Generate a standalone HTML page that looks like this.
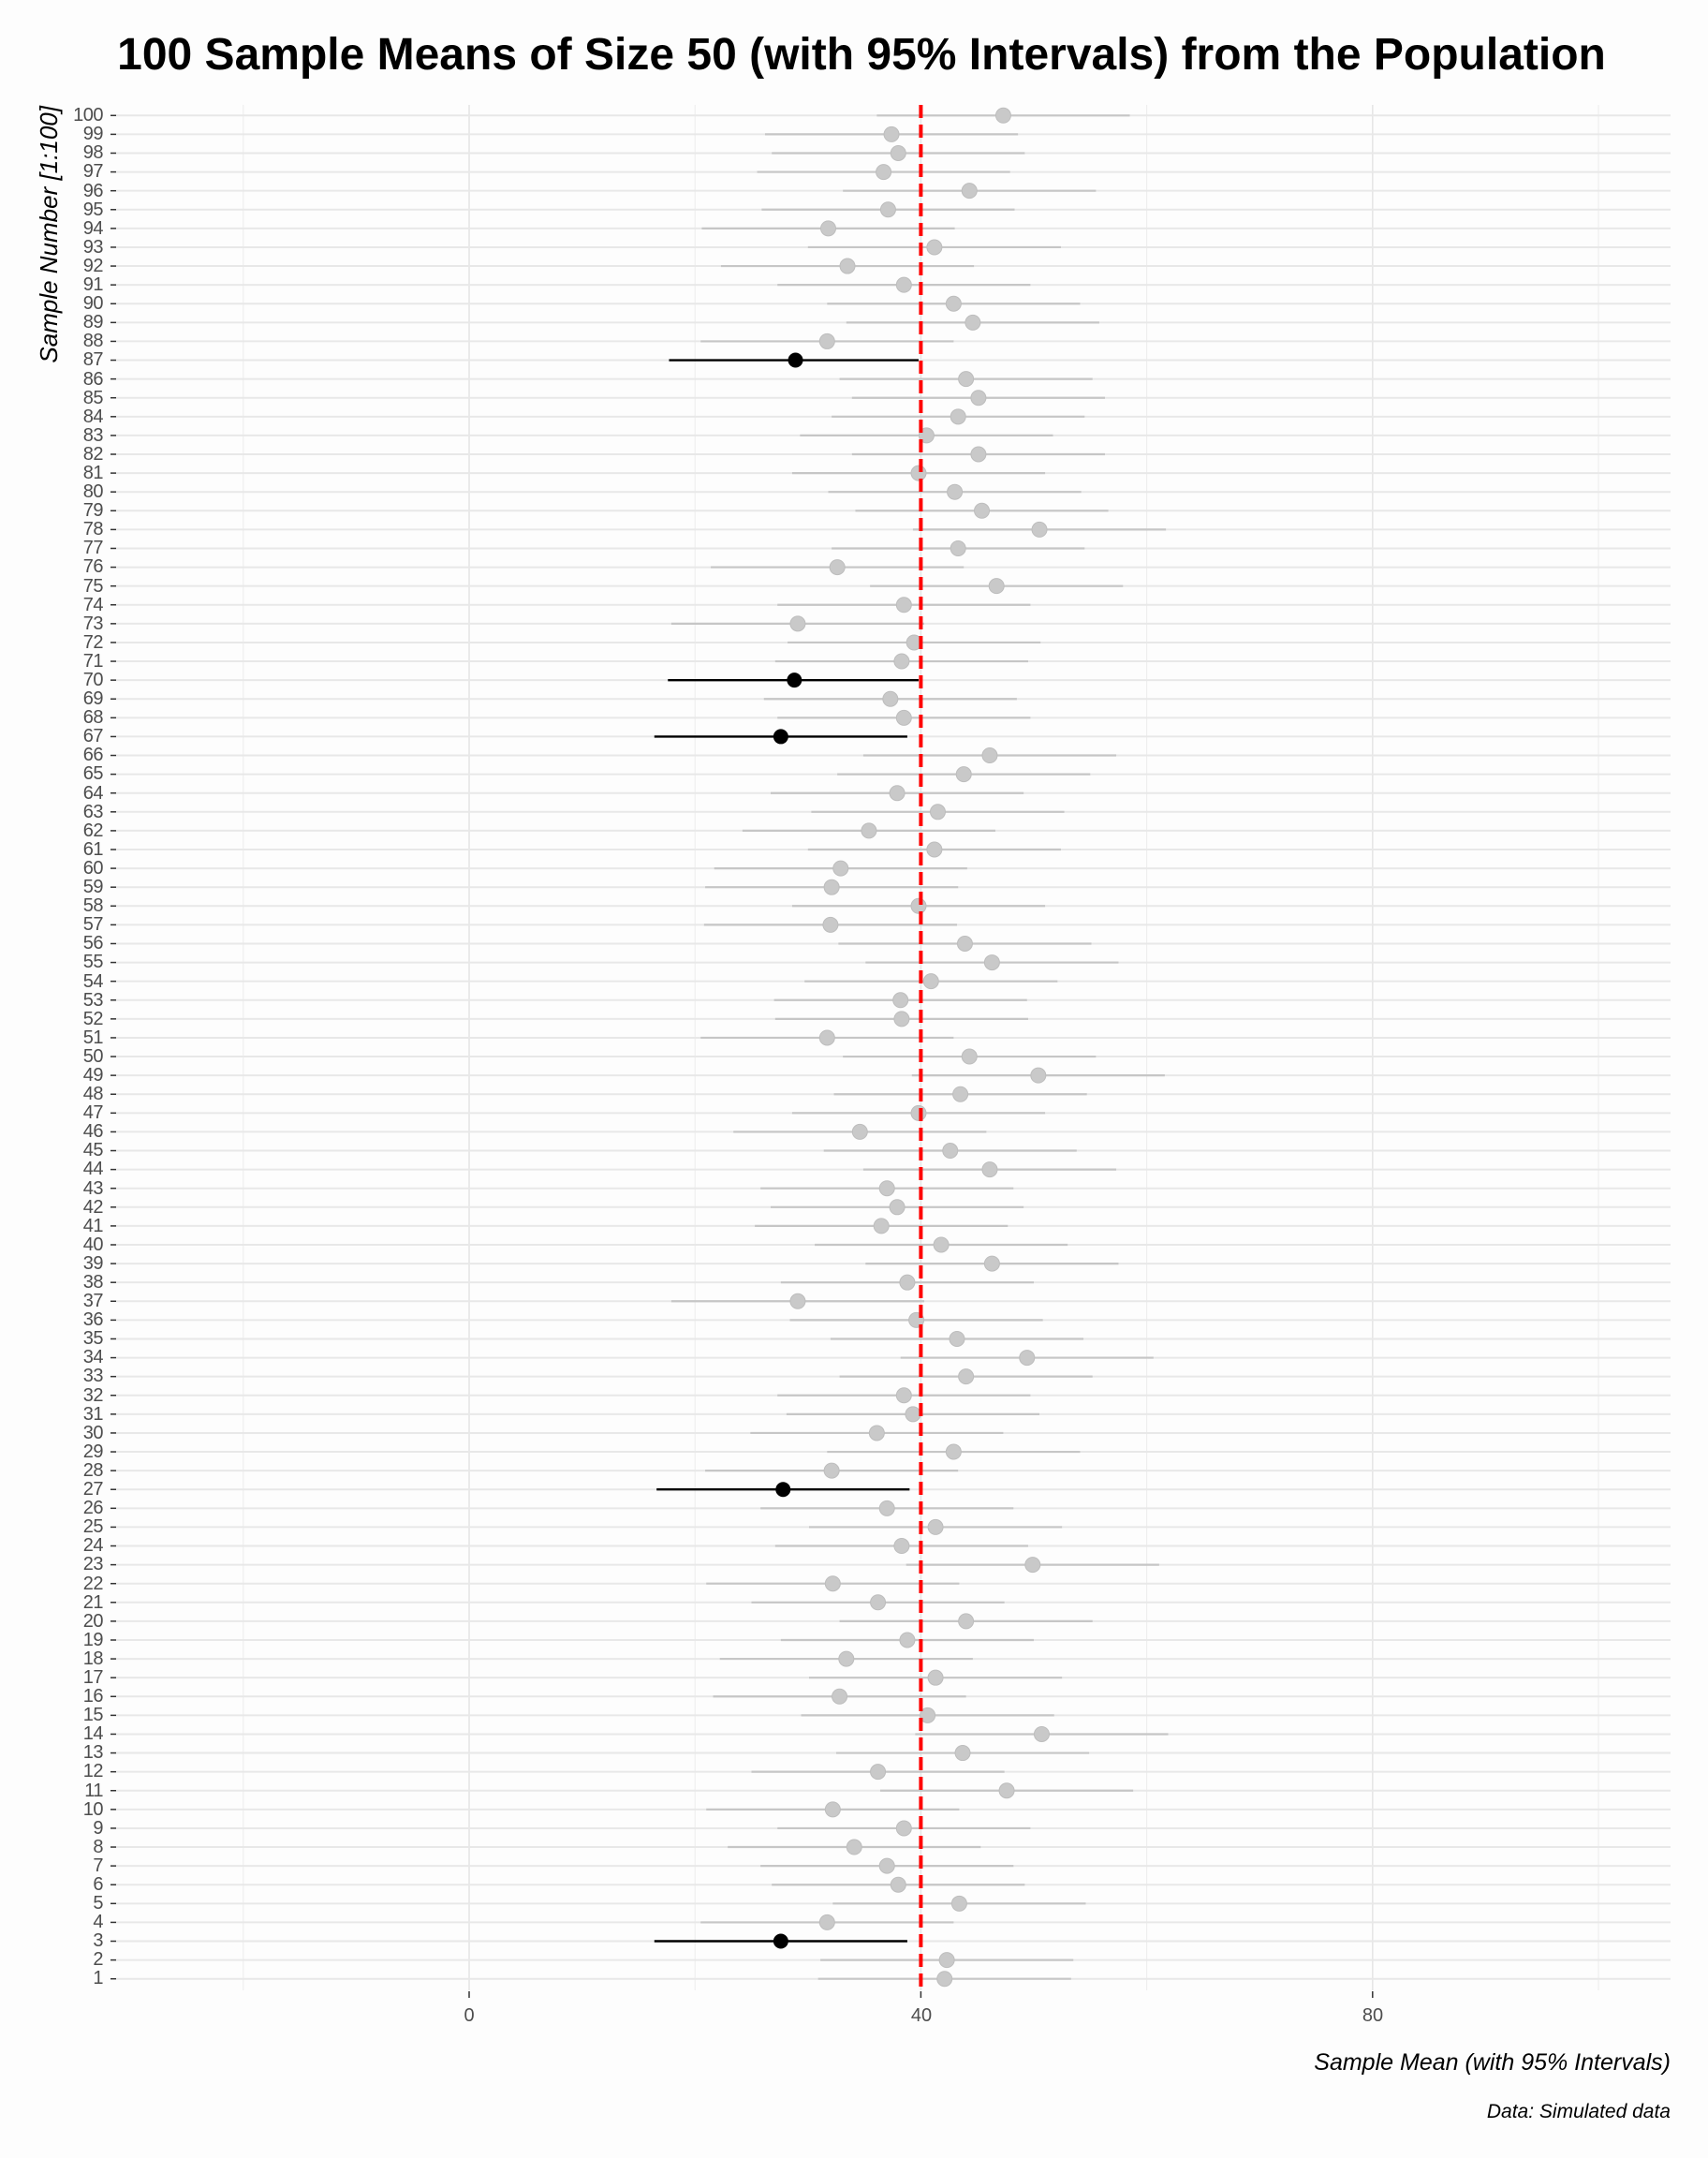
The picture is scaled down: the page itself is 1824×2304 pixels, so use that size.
<!DOCTYPE html>
<html><head><meta charset="utf-8"><style>
html,body{margin:0;padding:0;background:#fdfdfd;}
#c{position:relative;width:1824px;height:2304px;overflow:hidden;font-family:"Liberation Sans",sans-serif;}
#yl{position:absolute;left:40px;top:113.2px;width:70px;text-align:right;font-size:20px;line-height:20.095px;color:#4d4d4d;letter-spacing:-0.5px;}
svg{position:absolute;left:0;top:0;}
</style></head><body><div id="c">
<svg id="s" width="1824" height="2304" xmlns="http://www.w3.org/2000/svg">
<text x="920" y="74" text-anchor="middle" font-family="Liberation Sans" font-weight="bold" font-size="48" fill="#000">100 Sample Means of Size 50 (with 95% Intervals) from the Population</text>
<text transform="translate(61,113) rotate(-90)" text-anchor="end" font-family="Liberation Sans" font-style="italic" font-size="26" fill="#000">Sample Number [1:100]</text>
<text x="1784" y="2210" text-anchor="end" font-family="Liberation Sans" font-style="italic" font-size="25" fill="#000">Sample Mean (with 95% Intervals)</text>
<text x="1784" y="2261" text-anchor="end" font-family="Liberation Sans" font-style="italic" font-size="21" fill="#000">Data: Simulated data</text>
<text x="501" y="2158" text-anchor="middle" font-family="Liberation Sans" font-size="20" fill="#4d4d4d">0</text>
<text x="984" y="2158" text-anchor="middle" font-family="Liberation Sans" font-size="20" fill="#4d4d4d">40</text>
<text x="1466" y="2158" text-anchor="middle" font-family="Liberation Sans" font-size="20" fill="#4d4d4d">80</text>
<g id="g"></g>
</svg>
<div id="yl">100<br>99<br>98<br>97<br>96<br>95<br>94<br>93<br>92<br>91<br>90<br>89<br>88<br>87<br>86<br>85<br>84<br>83<br>82<br>81<br>80<br>79<br>78<br>77<br>76<br>75<br>74<br>73<br>72<br>71<br>70<br>69<br>68<br>67<br>66<br>65<br>64<br>63<br>62<br>61<br>60<br>59<br>58<br>57<br>56<br>55<br>54<br>53<br>52<br>51<br>50<br>49<br>48<br>47<br>46<br>45<br>44<br>43<br>42<br>41<br>40<br>39<br>38<br>37<br>36<br>35<br>34<br>33<br>32<br>31<br>30<br>29<br>28<br>27<br>26<br>25<br>24<br>23<br>22<br>21<br>20<br>19<br>18<br>17<br>16<br>15<br>14<br>13<br>12<br>11<br>10<br>9<br>8<br>7<br>6<br>5<br>4<br>3<br>2<br>1</div>
</div>
<script>
var m=[42.1,42.3,27.6,31.7,43.4,38.0,37.0,34.1,38.5,32.2,47.6,36.2,43.7,50.7,40.6,32.8,41.3,33.4,38.8,44.0,36.2,32.2,49.9,38.3,41.3,37.0,27.8,32.1,42.9,36.1,39.3,38.5,44.0,49.4,43.2,39.6,29.1,38.8,46.3,41.8,36.5,37.9,37.0,46.1,42.6,34.6,39.8,43.5,50.4,44.3,31.7,38.3,38.2,40.9,46.3,43.9,32.0,39.8,32.1,32.9,41.2,35.4,41.5,37.9,43.8,46.1,27.6,38.5,37.3,28.8,38.3,39.4,29.1,38.5,46.7,32.6,43.3,50.5,45.4,43.0,39.8,45.1,40.5,43.3,45.1,44.0,28.9,31.7,44.6,42.9,38.5,33.5,41.2,31.8,37.1,44.3,36.7,38.0,37.4,47.3];
var black=[3,27,67,70,87];
var X=function(v){return 501+12.06*v;},Y=function(i){return 2112.7-(i-1)*20.095;};
var h='';
[-20,20,60,100].forEach(function(v){h+='<line x1="'+X(v)+'" x2="'+X(v)+'" y1="112" y2="2125" stroke="#ececec" stroke-width="1"/>';});
[0,40,80].forEach(function(v){h+='<line x1="'+X(v)+'" x2="'+X(v)+'" y1="112" y2="2125" stroke="#e6e6e6" stroke-width="1.6"/><line x1="'+X(v)+'" x2="'+X(v)+'" y1="2126" y2="2133" stroke="#333" stroke-width="1.5"/>';});
for(var i=1;i<=100;i++){var y=Y(i);h+='<line x1="124" x2="1784" y1="'+y+'" y2="'+y+'" stroke="#e8e8e8" stroke-width="2"/><line x1="118" x2="124" y1="'+y+'" y2="'+y+'" stroke="#333" stroke-width="1.5"/>';}
var d='';
for(var i=1;i<=100;i++){var v=m[i-1],y=Y(i),miss=black.indexOf(i)>=0,hi=miss?Math.min(v+11.2,39.8):v+11.2;
 if(miss){d+='<line x1="'+X(v-11.2)+'" x2="'+X(hi)+'" y1="'+y+'" y2="'+y+'" stroke="#000" stroke-width="2.4"/><circle cx="'+X(v)+'" cy="'+y+'" r="8" fill="#000"/>';}
 else{h+='<line x1="'+X(v-11.2)+'" x2="'+X(hi)+'" y1="'+y+'" y2="'+y+'" stroke="#c6c6c6" stroke-width="2.2"/><circle cx="'+X(v)+'" cy="'+y+'" r="8" fill="#c9c9c9" stroke="#bdbdbd" stroke-width="1"/>';}}
h+='<line x1="'+X(40)+'" x2="'+X(40)+'" y1="112" y2="2125" stroke="#ff0000" stroke-width="4" stroke-dasharray="14,7"/>';
document.getElementById('g').innerHTML=h+d;
</script>
</body></html>
